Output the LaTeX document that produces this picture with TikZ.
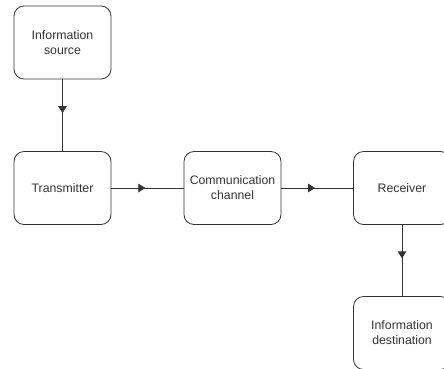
\documentclass[tikz,border=0pt]{standalone}
\usepackage{fontspec}
\setmainfont{Liberation Sans}
\usetikzlibrary{arrows.meta,decorations.markings}
\begin{document}
\begin{tikzpicture}
[x=1pt,y=-1pt,
  lineDecorate/.style={-,line width=0.8pt,draw=black!80,
    postaction={decorate},
    decoration={markings,mark=at position 0.47 with
      {\arrow{Triangle[width=8.5pt,length=7pt]}}}},%
  nodeDecorate/.style={shape=rectangle,rounded corners=10pt,draw=black!80,
    line width=0.8pt,minimum width=97pt,minimum height=73pt,
    align=center,text=black!80,font=\fontsize{12.3}{15}\selectfont}]
\useasboundingbox (0,0) rectangle (444,368);
\clip (0,0) rectangle (444,368);
%% blocks
\foreach \nodename/\x/\y/\txt in {
  src/62.5/42.5/{Information\\source},
  tx/62.5/188/{Transmitter},
  ch/232.5/188/{Communication\\channel},
  rx/402/188/{Receiver},
  dst/402/333/{Information\\destination}}
{
  \node (\nodename) at (\x,\y) [nodeDecorate] {\txt};
}
%% signal path
\path
\foreach \startnode/\endnode in {src/tx, tx/ch, ch/rx, rx/dst}
{
  (\startnode) edge[lineDecorate] (\endnode)
};
\end{tikzpicture}
\end{document}
